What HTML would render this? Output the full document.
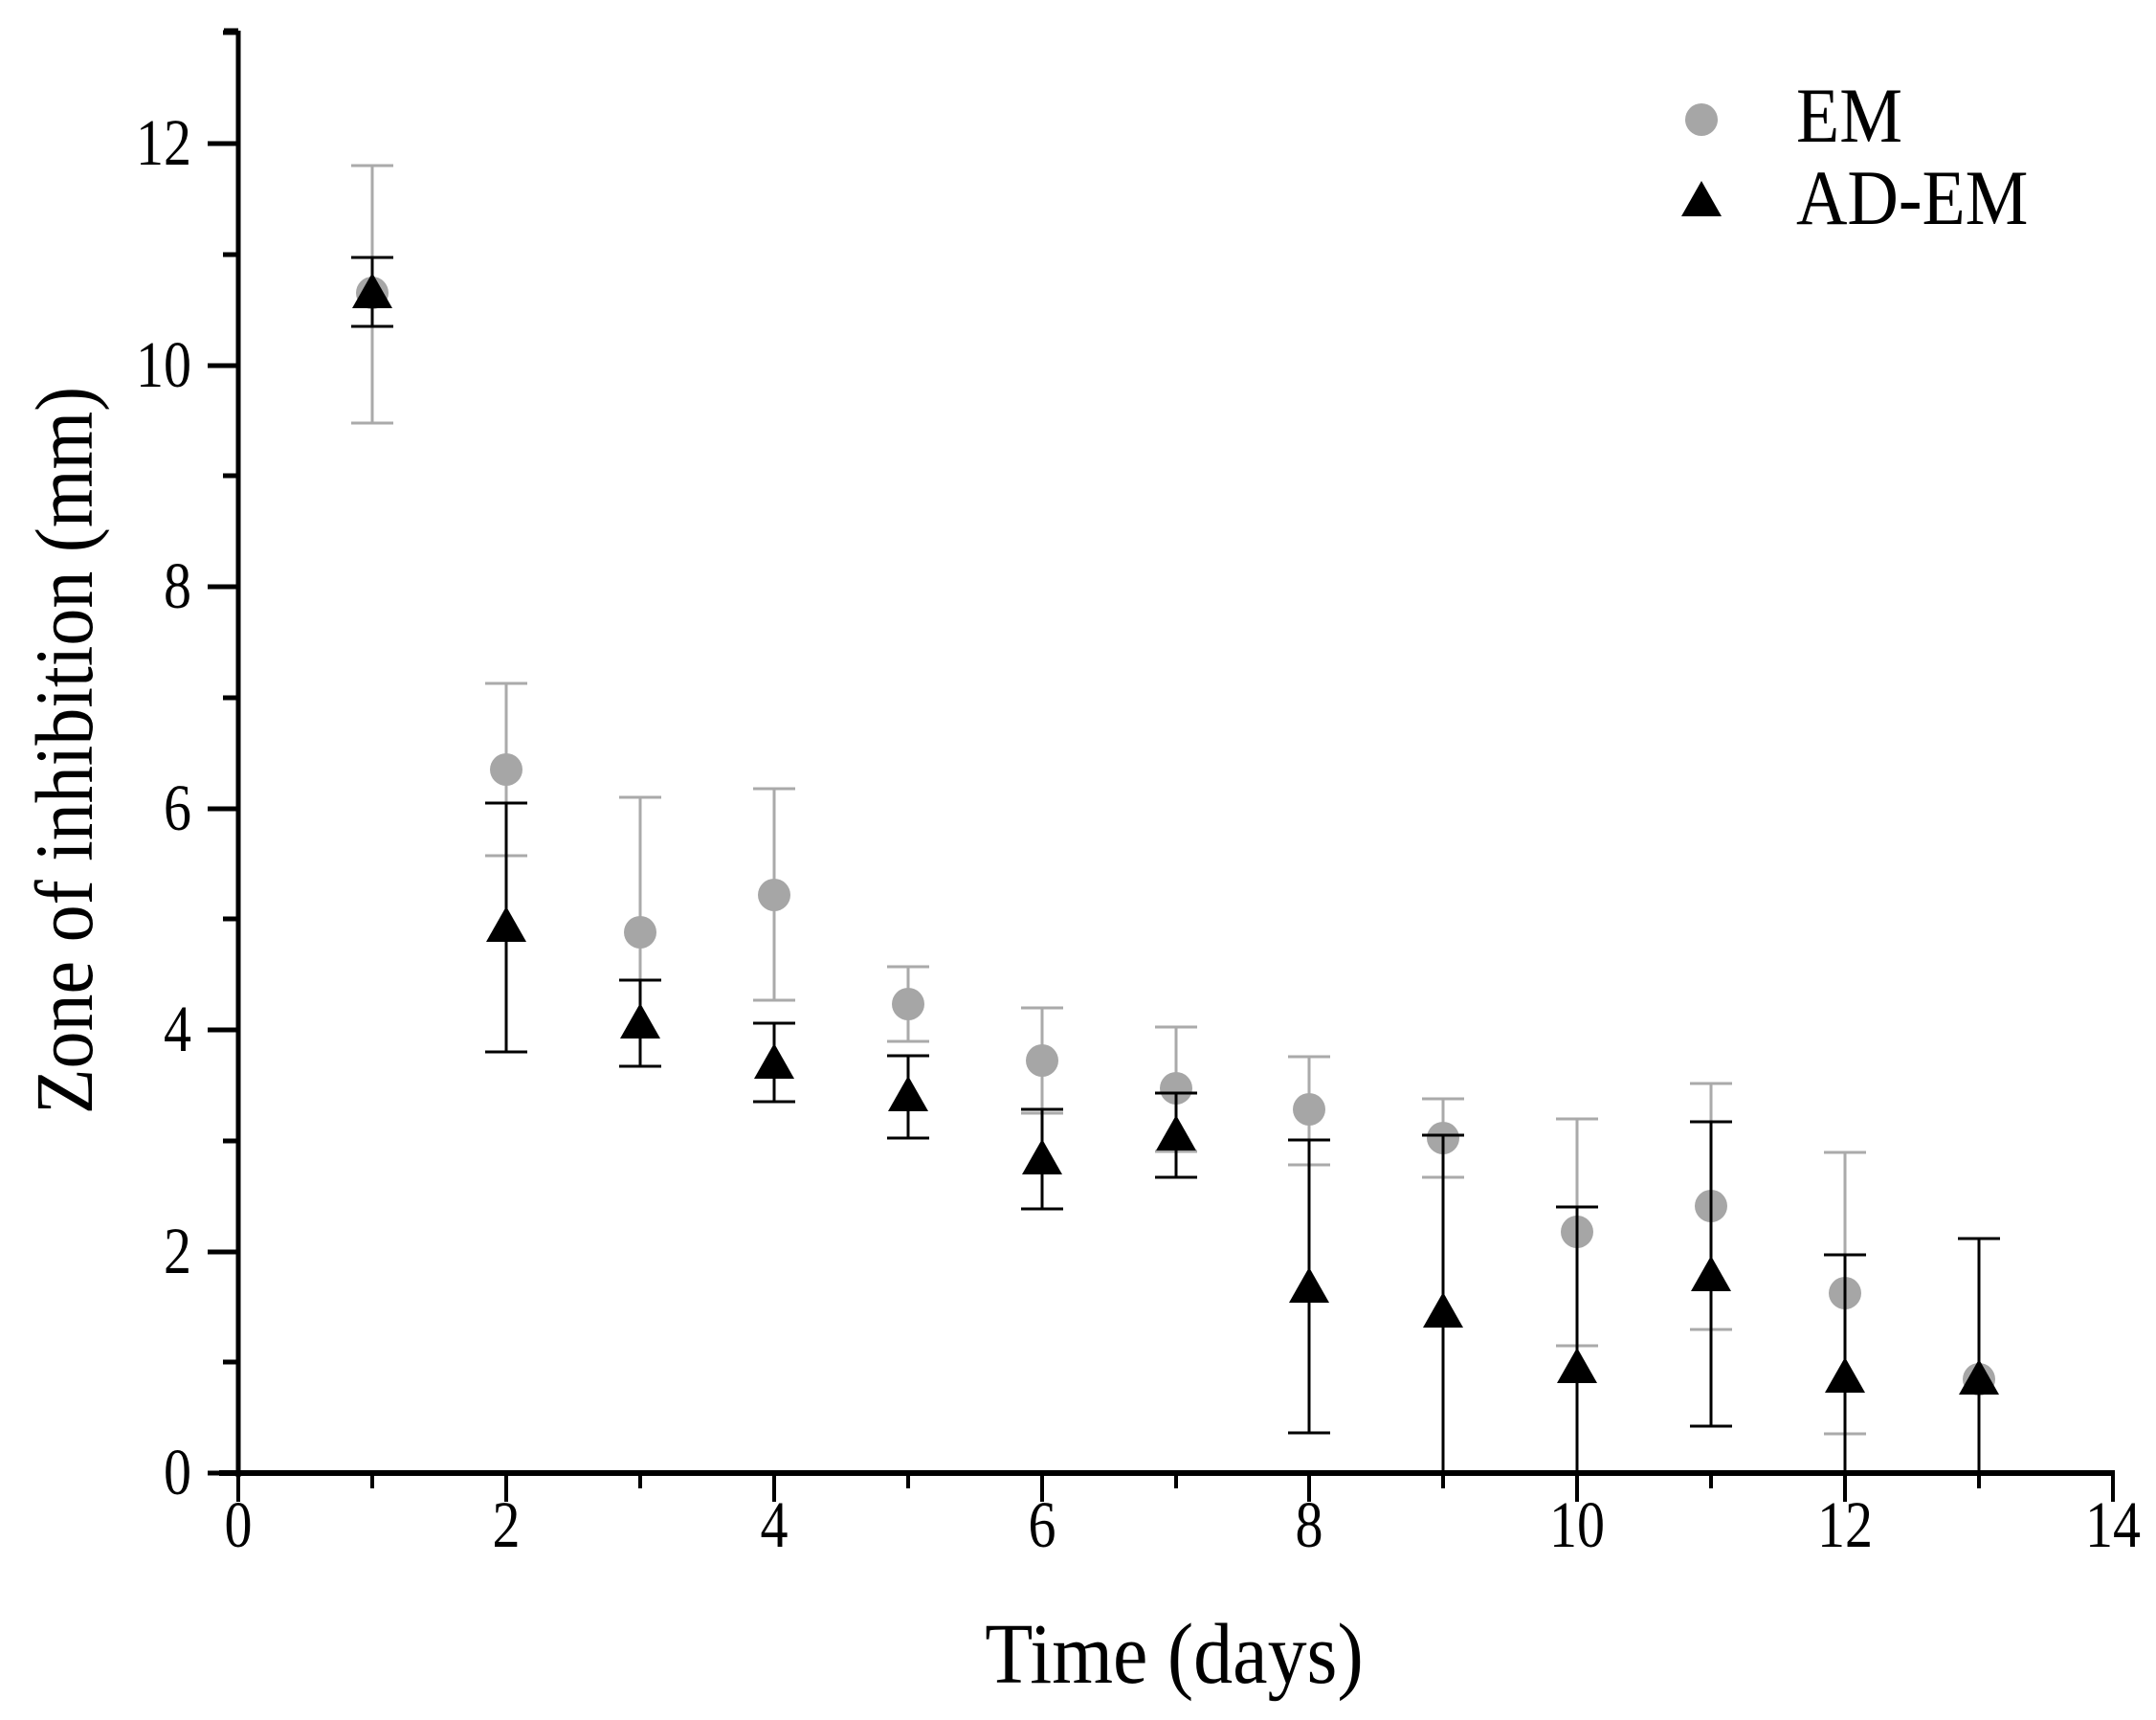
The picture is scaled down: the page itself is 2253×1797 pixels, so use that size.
<!DOCTYPE html>
<html><head><style>html,body{margin:0;padding:0;background:#fff;}</style></head><body>
<svg width="2253" height="1792" xmlns="http://www.w3.org/2000/svg" font-family="Liberation Serif, serif">
<rect width="2253" height="1792" fill="#fff"/>
<!-- axes -->
<g stroke="#000" stroke-width="5">
<line x1="249" y1="32" x2="249" y2="1543"/>
<line x1="234" y1="32" x2="249" y2="32"/>
<line x1="229" y1="1539" x2="2210" y2="1539" stroke-width="6"/>
<path d="M217 1539H249M233 1423H249M217 1308H249M233 1192H249M217 1076H249M233 960H249M217 845H249M233 729H249M217 613H249M233 497H249M217 382H249M233 266H249M217 150H249M233 34H249"/>
<path stroke-width="4" d="M249 1539V1569M389 1539V1555M529 1539V1569M669 1539V1555M809 1539V1569M949 1539V1555M1089 1539V1569M1229 1539V1555M1368 1539V1569M1508 1539V1555M1648 1539V1569M1788 1539V1555M1928 1539V1569M2068 1539V1555M2208 1539V1569"/>
</g>
<g font-size="58" text-anchor="end">
<text transform="translate(200,1561) scale(1,1.18)">0</text>
<text transform="translate(200,1330) scale(1,1.18)">2</text>
<text transform="translate(200,1098) scale(1,1.18)">4</text>
<text transform="translate(200,867) scale(1,1.18)">6</text>
<text transform="translate(200,635) scale(1,1.18)">8</text>
<text transform="translate(200,404) scale(1,1.18)">10</text>
<text transform="translate(200,172) scale(1,1.18)">12</text>
</g>
<g font-size="58" text-anchor="middle">
<text transform="translate(249,1616) scale(1,1.18)">0</text>
<text transform="translate(529,1616) scale(1,1.18)">2</text>
<text transform="translate(809,1616) scale(1,1.18)">4</text>
<text transform="translate(1089,1616) scale(1,1.18)">6</text>
<text transform="translate(1368,1616) scale(1,1.18)">8</text>
<text transform="translate(1648,1616) scale(1,1.18)">10</text>
<text transform="translate(1928,1616) scale(1,1.18)">12</text>
<text transform="translate(2208,1616) scale(1,1.18)">14</text>
</g>
<!-- EM error bars -->
<path stroke="#aaa" stroke-width="3" fill="none" d="
M389 442V173M367 173H411M367 442H411
M529 894V714M507 714H551M507 894H551
M669 1114V833M647 833H691M647 1114H691
M809 1045V824M787 824H831M787 1045H831
M949 1088V1010M927 1010H971M927 1088H971
M1089 1163V1053M1067 1053H1111M1067 1163H1111
M1229 1203V1073M1207 1073H1251M1207 1203H1251
M1368 1217V1104M1346 1104H1390M1346 1217H1390
M1508 1230V1148M1486 1148H1530M1486 1230H1530
M1648 1539V1169M1626 1169H1670M1626 1406H1670
M1788 1389V1132M1766 1132H1810M1766 1389H1810
M1928 1539V1204M1906 1204H1950M1906 1498H1950"/>
<g fill="#a6a6a6">
<circle cx="389" cy="306" r="17"/><circle cx="529" cy="804" r="17"/><circle cx="669" cy="974" r="17"/><circle cx="809" cy="935" r="17"/><circle cx="949" cy="1049" r="17"/><circle cx="1089" cy="1108" r="17"/><circle cx="1229" cy="1137" r="17"/><circle cx="1368" cy="1159" r="17"/><circle cx="1508" cy="1189" r="17"/><circle cx="1648" cy="1287" r="17"/><circle cx="1788" cy="1260" r="17"/><circle cx="1928" cy="1351" r="17"/><circle cx="2068" cy="1441" r="17"/>
</g>
<!-- AD-EM error bars -->
<path stroke="#000" stroke-width="3" fill="none" d="
M389 341V269M367 269H411M367 341H411
M529 1099V839M507 839H551M507 1099H551
M669 1114V1024M647 1024H691M647 1114H691
M809 1151V1069M787 1069H831M787 1151H831
M949 1189V1103M927 1103H971M927 1189H971
M1089 1263V1159M1067 1159H1111M1067 1263H1111
M1229 1230V1142M1207 1142H1251M1207 1230H1251
M1368 1497V1191M1346 1191H1390M1346 1497H1390
M1508 1539V1186M1486 1186H1530
M1648 1539V1261M1626 1261H1670
M1788 1490V1172M1766 1172H1810M1766 1490H1810
M1928 1539V1311M1906 1311H1950
M2068 1539V1294M2046 1294H2090"/>
<g fill="#000">
<polygon points="368,322 410,322 389,285"/>
<polygon points="508,984 550,984 529,947"/>
<polygon points="648,1085 690,1085 669,1048"/>
<polygon points="788,1127 830,1127 809,1090"/>
<polygon points="928,1161 970,1161 949,1124"/>
<polygon points="1068,1227 1110,1227 1089,1190"/>
<polygon points="1208,1202 1250,1202 1229,1165"/>
<polygon points="1347,1361 1389,1361 1368,1324"/>
<polygon points="1487,1387 1529,1387 1508,1350"/>
<polygon points="1627,1445 1669,1445 1648,1408"/>
<polygon points="1767,1349 1809,1349 1788,1312"/>
<polygon points="1907,1455 1949,1455 1928,1418"/>
<polygon points="2047,1457 2089,1457 2068,1420"/>
</g>
<!-- legend -->
<circle cx="1778" cy="125" r="17" fill="#a6a6a6"/>
<text transform="translate(1877,148) scale(1,1.1)" font-size="74">EM</text>
<polygon points="1757,226 1799,226 1778,189" fill="#000"/>
<text transform="translate(1877,234) scale(1,1.1)" font-size="74">AD-EM</text>
<text transform="translate(1227,1758) scale(1,1.1)" font-size="82" text-anchor="middle">Time (days)</text>
<text transform="translate(96,784) rotate(-90) scale(1,1.1)" font-size="78" text-anchor="middle">Zone of inhibition (mm)</text>
</svg>
</body></html>
